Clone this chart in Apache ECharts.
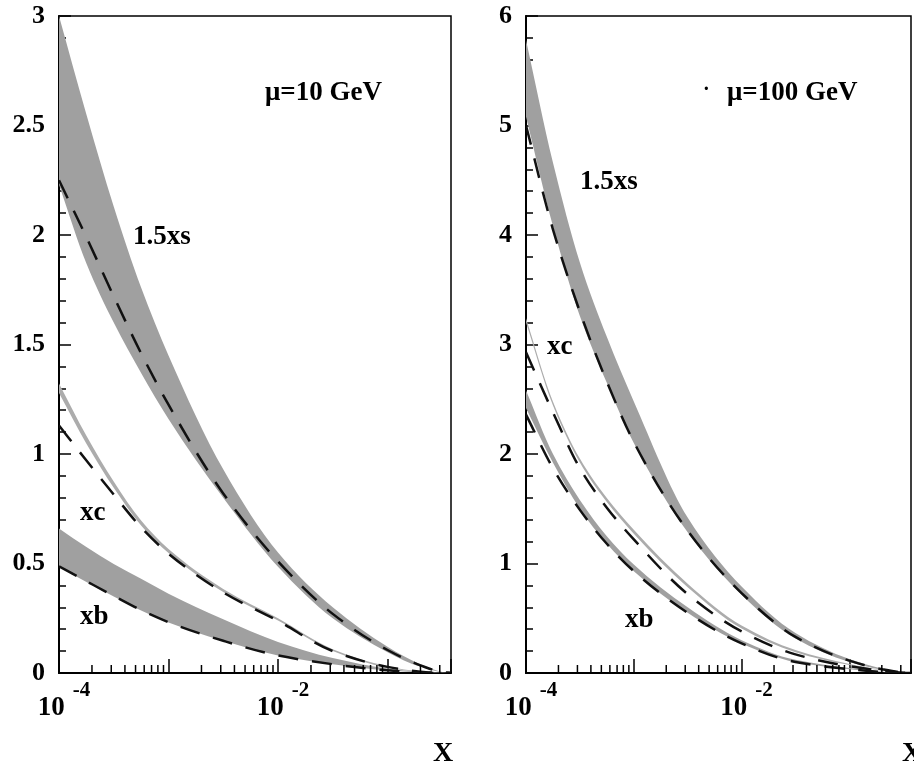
<!DOCTYPE html>
<html><head><meta charset="utf-8">
<script src="https://cdn.jsdelivr.net/npm/echarts@6/dist/echarts.min.js"></script>
<style>html,body{margin:0;padding:0;background:#fff}#c{width:914px;height:765px}</style>
</head><body><div id="c"></div>
<script>
// x sample points (log10 = -4, -3.75, -3.5, -3.25, -3, -2.5, -2, -1.5, -1, -0.7, -0.5, -0.42)
const xValues = [0.0001, 0.000178, 0.000316, 0.000562, 0.001, 0.00316, 0.01, 0.0316, 0.1, 0.2, 0.316, 0.38];

// Left panel: mu = 10 GeV
const L_s_upper = [3.00, 2.55, 2.13, 1.76, 1.45, 0.93, 0.550, 0.300, 0.120, 0.040, 0.005, 0];
const L_s_lower = [2.23, 1.87, 1.60, 1.37, 1.16, 0.80, 0.485, 0.250, 0.095, 0.028, 0.003, 0];
const L_s_dash  = [2.25, 1.99, 1.72, 1.46, 1.225, 0.82, 0.510, 0.270, 0.105, 0.035, 0.004, 0];
const L_c_upper = [1.322, 1.083, 0.874, 0.696, 0.566, 0.384, 0.250, 0.109, 0.031, 0.007, 0.001, 0];
const L_c_lower = [1.278, 1.047, 0.846, 0.674, 0.548, 0.370, 0.240, 0.101, 0.025, 0.005, 0, 0];
const L_c_dash  = [1.13, 0.97, 0.815, 0.665, 0.545, 0.368, 0.238, 0.100, 0.028, 0.006, 0, 0];
const L_b_upper = [0.66, 0.575, 0.498, 0.43, 0.362, 0.245, 0.142, 0.068, 0.020, 0.005, 0, 0];
const L_b_lower = [0.485, 0.415, 0.349, 0.285, 0.231, 0.147, 0.080, 0.040, 0.012, 0.002, 0, 0];
const L_b_dash  = [0.487, 0.419, 0.352, 0.287, 0.232, 0.147, 0.080, 0.040, 0.012, 0.002, 0, 0];

// Right panel: mu = 100 GeV
const R_s_upper = [5.78, 4.66, 3.75, 3.07, 2.48, 1.42, 0.79, 0.365, 0.127, 0.042, 0.006, 0];
const R_s_lower = [5.08, 4.08, 3.26, 2.65, 2.10, 1.285, 0.715, 0.315, 0.100, 0.030, 0.003, 0];
const R_s_dash  = [5.00, 4.05, 3.30, 2.66, 2.11, 1.30, 0.73, 0.33, 0.113, 0.035, 0.004, 0];
const R_c_upper = [3.24, 2.478, 1.958, 1.598, 1.308, 0.816, 0.434, 0.210, 0.082, 0.027, 0.004, 0];
const R_c_lower = [3.20, 2.442, 1.922, 1.562, 1.272, 0.784, 0.406, 0.190, 0.072, 0.023, 0.002, 0];
const R_c_dash  = [2.93, 2.38, 1.87, 1.51, 1.22, 0.72, 0.38, 0.17, 0.062, 0.020, 0.002, 0];
const R_b_upper = [2.58, 2.00, 1.58, 1.25, 0.99, 0.60, 0.30, 0.12, 0.045, 0.013, 0.002, 0];
const R_b_lower = [2.42, 1.92, 1.50, 1.18, 0.93, 0.55, 0.27, 0.10, 0.035, 0.010, 0.001, 0];
const R_b_dash  = [2.36, 1.87, 1.49, 1.18, 0.93, 0.55, 0.27, 0.10, 0.035, 0.010, 0.001, 0];

const xLabelExponents = [-4, -2];
const leftYTicks = {min: 0, max: 3, interval: 0.5};
const rightYTicks = {min: 0, max: 6, interval: 1};
const labels = {leftMu: 'μ=10 GeV', rightMu: 'μ=100 GeV', s: '1.5xs', c: 'xc', b: 'xb', xTitle: 'X'};

const FONT = '"Liberation Serif", "Times New Roman", serif';
const BAND = '#a0a0a0';
const BANDC = '#acacac';

// monotone cubic (Fritsch-Butland) through pixel points -> bezier segments
function tangents(p) {
  const n = p.length, d = [], m = [];
  for (let i = 0; i < n - 1; i++) d.push((p[i + 1][1] - p[i][1]) / (p[i + 1][0] - p[i][0]));
  m[0] = d[0]; m[n - 1] = d[n - 2];
  for (let i = 1; i < n - 1; i++) {
    if (d[i - 1] * d[i] <= 0) { m[i] = 0; continue; }
    const h0 = p[i][0] - p[i - 1][0], h1 = p[i + 1][0] - p[i][0];
    const w1 = 2 * h1 + h0, w2 = h1 + 2 * h0;
    m[i] = (w1 + w2) / (w1 / d[i - 1] + w2 / d[i]);
  }
  return m;
}
function segs(p) {
  const m = tangents(p), out = [];
  for (let i = 0; i < p.length - 1; i++) {
    const h = p[i + 1][0] - p[i][0];
    out.push([[p[i][0] + h / 3, p[i][1] + m[i] * h / 3], [p[i + 1][0] - h / 3, p[i + 1][1] - m[i + 1] * h / 3]]);
  }
  return out;
}
function f(v) { return v.toFixed(2); }
function curvePath(p) {
  const s = segs(p);
  let d = 'M' + f(p[0][0]) + ' ' + f(p[0][1]);
  s.forEach((c, i) => { d += ' C' + f(c[0][0]) + ' ' + f(c[0][1]) + ' ' + f(c[1][0]) + ' ' + f(c[1][1]) + ' ' + f(p[i + 1][0]) + ' ' + f(p[i + 1][1]); });
  return d;
}
function bandPath(up, lo) {
  let d = curvePath(up);
  const s = segs(lo), n = lo.length;
  d += ' L' + f(lo[n - 1][0]) + ' ' + f(lo[n - 1][1]);
  for (let i = n - 2; i >= 0; i--) {
    const c = s[i];
    d += ' C' + f(c[1][0]) + ' ' + f(c[1][1]) + ' ' + f(c[0][0]) + ' ' + f(c[0][1]) + ' ' + f(lo[i][0]) + ' ' + f(lo[i][1]);
  }
  return d + ' Z';
}

function bandSeries(gi, lower, upper, color) {
  return {type: 'custom', xAxisIndex: gi, yAxisIndex: gi, silent: true, clip: true, z: 2,
    data: xValues.map((x, i) => [x, lower[i], upper[i]]),
    encode: {x: 0, y: [1, 2]},
    renderItem: (params, api) => {
      if (params.dataIndex !== 0) return null;
      const up = xValues.map((x, i) => api.coord([x, upper[i]]));
      const lo = xValues.map((x, i) => api.coord([x, lower[i]]));
      return {type: 'path', shape: {pathData: bandPath(up, lo)}, style: {fill: color, stroke: null}};
    }};
}
function dashSeries(gi, vals) {
  return {type: 'custom', xAxisIndex: gi, yAxisIndex: gi, silent: true, clip: true, z: 3,
    data: xValues.map((x, i) => [x, vals[i]]),
    renderItem: (params, api) => {
      if (params.dataIndex !== 0) return null;
      const p = xValues.map((x, i) => api.coord([x, vals[i]]));
      return {type: 'path', shape: {pathData: curvePath(p)},
        style: {fill: null, stroke: '#111', lineWidth: 2.5, lineDash: [20, 14]}};
    }};
}
// minor log ticks (2..9 x 10^k) drawn through the axis scale
const minorTickX = [];
for (let k = -4; k <= -1; k++) for (let m = 2; m <= 9; m++) minorTickX.push(m * Math.pow(10, k));
function minorTicks(gi) {
  return {type: 'custom', xAxisIndex: gi, yAxisIndex: gi, silent: true, z: 5, clip: true,
    data: minorTickX.map(x => [x, 0]),
    renderItem: (params, api) => {
      const p = api.coord([api.value(0), 0]);
      return {type: 'line', shape: {x1: p[0], y1: p[1], x2: p[0], y2: p[1] - 8},
        style: {stroke: '#000', lineWidth: 1.5}};
    }};
}
function xAxis(gi, max) {
  return {type: 'log', logBase: 10, gridIndex: gi, min: 1e-4, max: max,
    axisLine: {lineStyle: {color: '#000', width: 2}},
    axisTick: {inside: true, length: 14, lineStyle: {color: '#000', width: 1.5}},
    splitLine: {show: false},
    axisLabel: {margin: 7, color: '#000', padding: [0, 0, 0, 10],
      formatter: v => {
        const lg = Math.log10(v), e = Math.round(lg);
        if (Math.abs(lg - e) > 1e-6 || xLabelExponents.indexOf(e) < 0) return '';
        return '{b|10}{sp| }{s|' + e + '}';
      },
      rich: {
        b: {fontSize: 27, fontWeight: 'bold', fontFamily: FONT, color: '#000', lineHeight: 27, verticalAlign: 'bottom'},
        sp: {fontSize: 10, lineHeight: 42, width: 8},
        s: {fontSize: 21, fontWeight: 'bold', fontFamily: FONT, color: '#000', lineHeight: 21, verticalAlign: 'top'}
      }}};
}
function yAxis(gi, t) {
  return {type: 'value', gridIndex: gi, min: t.min, max: t.max, interval: t.interval,
    axisLine: {show: true, lineStyle: {color: '#000', width: 2}},
    axisTick: {show: true, inside: true, length: 12, lineStyle: {color: '#000', width: 1.5}},
    minorTick: {show: true, splitNumber: 5, length: 7, lineStyle: {color: '#000', width: 1.5}},
    splitLine: {show: false}, minorSplitLine: {show: false},
    axisLabel: {margin: 14, color: '#000', fontSize: 26, fontWeight: 'bold', fontFamily: FONT}};
}
function txt(x, y, s, size) {
  return {type: 'text', x: x, y: y, z: 10,
    style: {text: s, fill: '#000', fontSize: size || 27, fontWeight: 'bold', fontFamily: FONT, verticalAlign: 'middle', align: 'left'}};
}

const chart = echarts.init(document.getElementById('c'), null, {renderer: 'canvas'});
chart.setOption({
  animation: false,
  backgroundColor: '#fff',
  grid: [
    {left: 59, top: 16, width: 392, height: 657, show: true, borderColor: '#000', borderWidth: 1.5, backgroundColor: 'transparent'},
    {left: 526, top: 16, width: 400, height: 657, show: true, borderColor: '#000', borderWidth: 1.5, backgroundColor: 'transparent'}
  ],
  xAxis: [xAxis(0, 0.38), xAxis(1, 0.373)],
  yAxis: [yAxis(0, leftYTicks), yAxis(1, rightYTicks)],
  series: [
    bandSeries(0, L_s_lower, L_s_upper, BAND),
    bandSeries(0, L_c_lower, L_c_upper, BANDC),
    bandSeries(0, L_b_lower, L_b_upper, BAND),
    dashSeries(0, L_s_dash), dashSeries(0, L_c_dash), dashSeries(0, L_b_dash),
    bandSeries(1, R_s_lower, R_s_upper, BAND),
    bandSeries(1, R_c_lower, R_c_upper, BANDC),
    bandSeries(1, R_b_lower, R_b_upper, BAND),
    dashSeries(1, R_s_dash), dashSeries(1, R_c_dash), dashSeries(1, R_b_dash),
    minorTicks(0), minorTicks(1)
  ],
  graphic: [
    txt(265, 93, labels.leftMu),
    txt(703, 90, '·', 20),
    txt(727, 93, labels.rightMu),
    txt(133, 237, labels.s),
    txt(580, 182, labels.s),
    txt(80, 513, labels.c),
    txt(547, 347, labels.c),
    txt(80, 617, labels.b),
    txt(625, 620, labels.b),
    txt(433, 754, labels.xTitle, 28),
    txt(902, 754, labels.xTitle, 28)
  ]
});
</script></body></html>
